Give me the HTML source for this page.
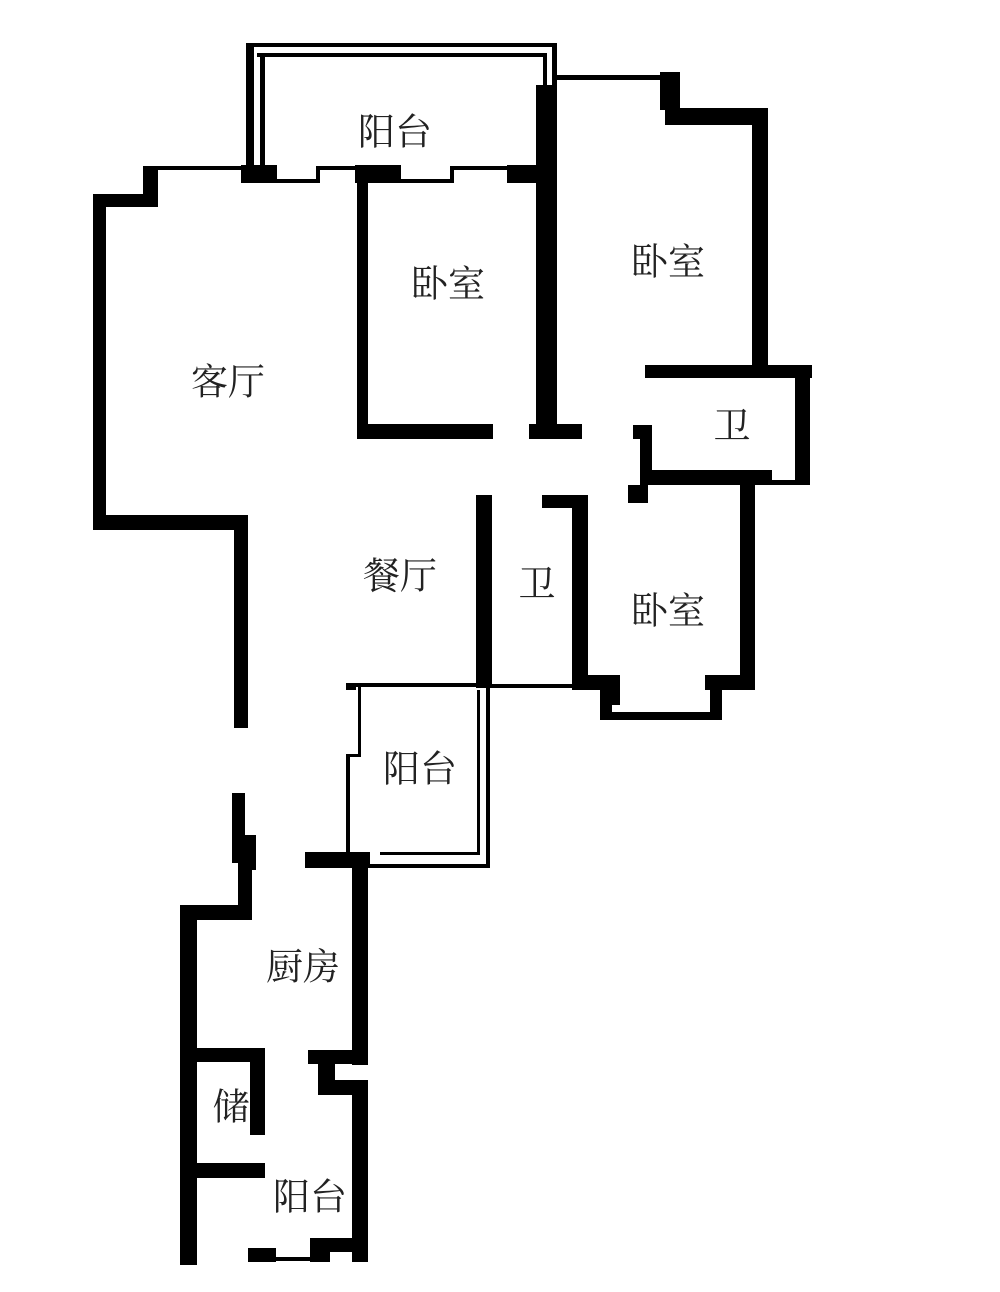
<!DOCTYPE html>
<html><head><meta charset="utf-8"><style>
html,body{margin:0;padding:0;background:#fff}
svg{display:block}
text{font-family:"Liberation Serif","Noto Serif CJK SC",serif;font-size:37px;fill:#222;text-anchor:middle;dominant-baseline:central}
</style></head><body>
<svg width="1000" height="1292" viewBox="0 0 1000 1292" xmlns="http://www.w3.org/2000/svg">
<g fill="#000">
<rect x="246" y="43" width="311" height="4"/>
<rect x="257" y="53" width="290" height="4"/>
<rect x="246" y="43" width="8" height="140"/>
<rect x="260" y="53" width="5" height="130"/>
<rect x="552" y="43" width="5" height="45"/>
<rect x="543" y="53" width="4" height="35"/>
<rect x="241" y="165" width="36" height="18"/>
<rect x="277" y="179" width="41" height="4"/>
<rect x="316" y="166" width="4" height="17"/>
<rect x="318" y="166" width="37" height="4"/>
<rect x="355" y="165" width="46" height="18"/>
<rect x="401" y="179" width="51" height="4"/>
<rect x="450" y="166" width="4" height="17"/>
<rect x="452" y="166" width="55" height="4"/>
<rect x="507" y="165" width="30" height="18"/>
<rect x="148" y="166" width="98" height="4"/>
<rect x="143" y="166" width="15" height="41"/>
<rect x="93" y="194" width="65" height="13"/>
<rect x="93" y="194" width="13" height="336"/>
<rect x="93" y="515" width="155" height="15"/>
<rect x="234" y="515" width="14" height="213"/>
<rect x="357" y="165" width="11" height="274"/>
<rect x="357" y="424" width="136" height="15"/>
<rect x="529" y="424" width="53" height="15"/>
<rect x="536" y="85" width="21" height="354"/>
<rect x="557" y="75" width="103" height="5"/>
<rect x="660" y="72" width="20" height="38"/>
<rect x="665" y="108" width="103" height="17"/>
<rect x="752" y="108" width="16" height="262"/>
<rect x="645" y="365" width="167" height="13"/>
<rect x="795" y="365" width="15" height="120"/>
<rect x="645" y="470" width="127" height="15"/>
<rect x="772" y="480" width="38" height="5"/>
<rect x="640" y="425" width="12" height="60"/>
<rect x="633" y="425" width="19" height="14"/>
<rect x="740" y="478" width="15" height="212"/>
<rect x="705" y="675" width="50" height="15"/>
<rect x="628" y="485" width="20" height="18"/>
<rect x="572" y="495" width="16" height="190"/>
<rect x="542" y="495" width="46" height="13"/>
<rect x="572" y="675" width="48" height="15"/>
<rect x="600" y="675" width="12" height="45"/>
<rect x="600" y="712" width="122" height="8"/>
<rect x="710" y="675" width="12" height="45"/>
<rect x="612" y="675" width="8" height="30"/>
<rect x="476" y="495" width="16" height="193"/>
<rect x="476" y="684" width="124" height="4"/>
<rect x="346" y="683" width="144" height="4"/>
<rect x="346" y="683" width="10" height="7"/>
<rect x="358" y="686" width="3" height="70"/>
<rect x="346" y="754" width="15" height="3"/>
<rect x="346" y="754" width="4" height="102"/>
<rect x="486" y="683" width="4" height="185"/>
<rect x="477" y="690" width="3" height="165"/>
<rect x="345" y="864" width="145" height="4"/>
<rect x="305" y="852" width="65" height="16"/>
<rect x="380" y="852" width="100" height="3"/>
<rect x="232" y="793" width="13" height="70"/>
<rect x="238" y="835" width="18" height="35"/>
<rect x="238" y="850" width="14" height="70"/>
<rect x="180" y="905" width="72" height="15"/>
<rect x="180" y="905" width="17" height="360"/>
<rect x="352" y="855" width="16" height="210"/>
<rect x="308" y="1050" width="60" height="14"/>
<rect x="318" y="1058" width="17" height="37"/>
<rect x="318" y="1080" width="50" height="15"/>
<rect x="352" y="1080" width="16" height="182"/>
<rect x="197" y="1048" width="68" height="14"/>
<rect x="250" y="1048" width="15" height="87"/>
<rect x="197" y="1163" width="68" height="15"/>
<rect x="248" y="1248" width="28" height="14"/>
<rect x="276" y="1257" width="40" height="4"/>
<rect x="310" y="1238" width="20" height="24"/>
<rect x="325" y="1238" width="43" height="14"/>
</g>
<text x="395" y="133">阳台</text>
<text x="448" y="285">卧室</text>
<text x="668" y="263">卧室</text>
<text x="228" y="383">客厅</text>
<text x="732" y="427">卫</text>
<text x="400" y="577">餐厅</text>
<text x="537" y="585">卫</text>
<text x="668" y="612">卧室</text>
<text x="420" y="770">阳台</text>
<text x="303" y="968">厨房</text>
<text x="231" y="1108">储</text>
<text x="310" y="1198">阳台</text>
</svg>
</body></html>
